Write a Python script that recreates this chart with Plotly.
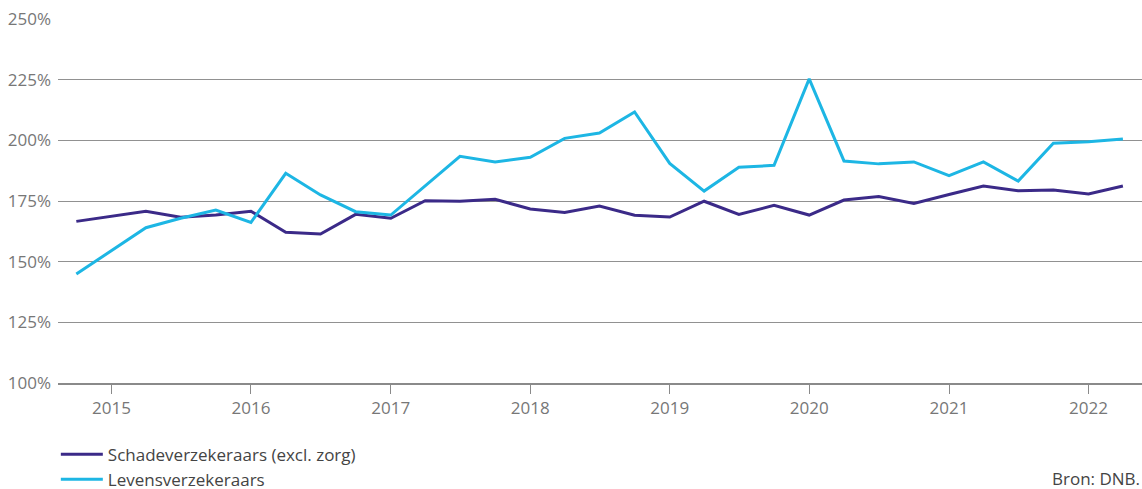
import plotly.graph_objects as go

quarters = ["2014-10-01"] + [f"{y}-{m:02d}-01" for y in range(2015, 2023) for m in (1, 4, 7, 10)]
quarters = quarters[:31]

schade = [166.6, 168.7, 170.8, 168.3, 169.2, 170.8, 162.1, 161.4, 169.5, 167.9,
          175.1, 174.9, 175.7, 171.7, 170.3, 172.9, 169.1, 168.4, 174.9, 169.5,
          173.2, 169.2, 175.4, 176.8, 174.0, 177.7, 181.2, 179.2, 179.5, 177.9, 181.2]

leven = [144.9, 154.5, 164.0, 167.9, 171.3, 166.2, 186.4, 177.5, 170.6, 169.2,
         181.3, 193.4, 191.1, 193.0, 200.8, 203.0, 211.7, 190.5, 179.1, 188.9,
         189.7, 225.3, 191.5, 190.3, 191.1, 185.4, 191.1, 183.2, 198.8, 199.4, 200.5]

names = ["Schadeverzekeraars (excl. zorg)", "Levensverzekeraars"]
colors = ["#3b2a88", "#1db6e4"]
y_ticks = [100, 125, 150, 175, 200, 225, 250]
y_tick_labels = [f"{v}%" for v in y_ticks]
x_ticks = [f"{y}-01-01" for y in range(2015, 2023)]
x_tick_labels = [str(y) for y in range(2015, 2023)]

FONT = "Open Sans"
FS = 17

fig = go.Figure()
for name, vals, col in zip(names, [schade, leven], colors):
    fig.add_trace(go.Scatter(x=quarters, y=vals, name=name, mode="lines",
                             line=dict(color=col, width=3)))

fig.update_layout(
    width=1142, height=489,
    margin=dict(l=58, r=0, t=19, b=106, autoexpand=False),
    paper_bgcolor="white", plot_bgcolor="white",
    font=dict(family=FONT, size=FS, color="#777777"),
    showlegend=True,
    legend=dict(orientation="v", x=-0.002, xanchor="left",
                yref="container", y=0.107, yanchor="top",
                font=dict(family=FONT, size=FS, color="#444444"),
                tracegroupgap=0, itemwidth=42, bgcolor="rgba(0,0,0,0)"),
    xaxis=dict(type="date", range=["2014-08-14", "2022-05-21"],
               tickvals=x_ticks, ticktext=x_tick_labels,
               showgrid=False, zeroline=False,
               showline=True, linecolor="#8a8a8a", linewidth=1.5,
               ticks="outside", ticklen=9, tickwidth=1, tickcolor="#8a8a8a",
               tickfont=dict(family=FONT, size=FS, color="#777777")),
    yaxis=dict(range=[100, 250], tickvals=y_ticks, ticktext=y_tick_labels,
               showgrid=True, gridcolor="#919191", gridwidth=1,
               zeroline=False, showline=False, ticks="", ticklabelstandoff=6,
               tickfont=dict(family=FONT, size=FS, color="#777777")),
    annotations=[dict(text="Bron: DNB.", xref="paper", yref="paper", x=1.0, y=-0.2637,
                      xanchor="right", yanchor="middle", showarrow=False,
                      font=dict(family=FONT, size=FS, color="#444444"))],
)

fig.write_html("out.html")
